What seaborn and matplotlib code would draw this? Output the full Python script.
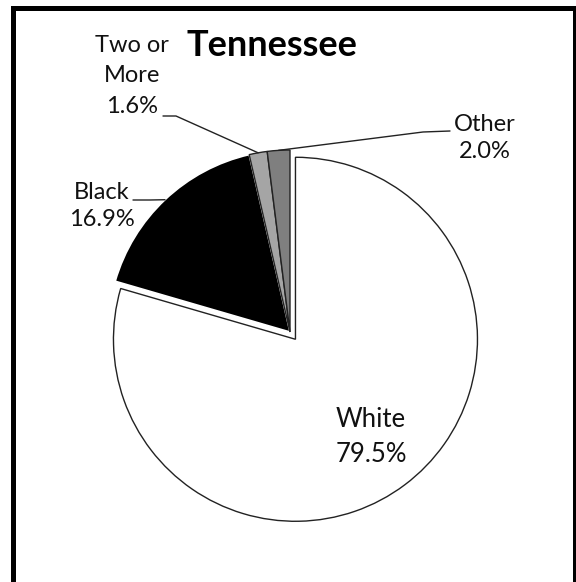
import matplotlib
matplotlib.use("Agg")
import matplotlib.pyplot as plt
from matplotlib.patches import Rectangle
import numpy as np
import seaborn as sns

# Racial composition of Tennessee
groups = ["White", "Black", "Two or\nMore", "Other"]
shares = [79.5, 16.9, 1.6, 2.0]
slice_colors = ["#FFFFFF", "#000000", "#A5A5A5", "#7F7F7F"]
title = "Tennessee"

sns.set_theme(style="white")
plt.rcParams["font.family"] = ["Lato", "DejaVu Sans"]

W, H = 576, 582
fig = plt.figure(figsize=(W / 100, H / 100), dpi=100)
ax = fig.add_axes([0, 0, 1, 1])

# pixel geometry of the pie (centre and radius)
cx, cy, rad = 290, 332, 182


def px(x, y):
    """pixel position (from top-left) -> data coordinates"""
    return (x - cx) / rad, (cy - y) / rad


wedges, _ = ax.pie(
    shares,
    colors=slice_colors,
    startangle=90,
    counterclock=False,
    explode=[0.05, 0, 0, 0],
    wedgeprops=dict(edgecolor="#222222", linewidth=1.0),
)
wedges[1].set_edgecolor("white")
wedges[1].set_linewidth(1.2)

ax.set_aspect("auto")
ax.set_xlim(-cx / rad, (W - cx) / rad)
ax.set_ylim(-(H - cy) / rad, cy / rad)
ax.axis("off")


def anchor(w, r=1.0):
    mid = np.deg2rad((w.theta1 + w.theta2) / 2)
    c = w.center
    return c[0] + r * np.cos(mid), c[1] + r * np.sin(mid)


labels = [f"{g}\n{v:.1f}%" for g, v in zip(groups, shares)]
label_pos = [(371, 437), (102, 206), (132, 76), (485, 138)]
label_size = [18.5, 17, 17, 17]
label_spacing = [1.5, 1.4, 1.55, 1.4]
for lab, (lx, ly), fs, ls in zip(labels, label_pos, label_size, label_spacing):
    ax.text(*px(lx, ly), lab, ha="center", va="center", fontsize=fs,
            color="#111111", linespacing=ls)

# leader lines: label end -> elbow -> slice edge
leaders = {1: [(133, 200), (150, 200)],
           2: [(163, 116), (176, 116)],
           3: [(450, 131), (423, 132)]}
for i, pts in leaders.items():
    xs = [px(*p)[0] for p in pts]
    ys = [px(*p)[1] for p in pts]
    ax_, ay_ = anchor(wedges[i])
    ax.plot(xs + [ax_], ys + [ay_], color="#222222", lw=1.0)

ax.text(*px(272, 46), title, ha="center", va="center", fontsize=26,
        fontweight="bold", color="black")

# outer frame
fig.add_artist(Rectangle((13 / W, -0.05), (574.5 - 13) / W, 1.05 - 7.5 / H,
                         transform=fig.transFigure, fill=False,
                         edgecolor="black", linewidth=3.6, clip_on=False))

fig.savefig("out.png", dpi=100, facecolor="white")
